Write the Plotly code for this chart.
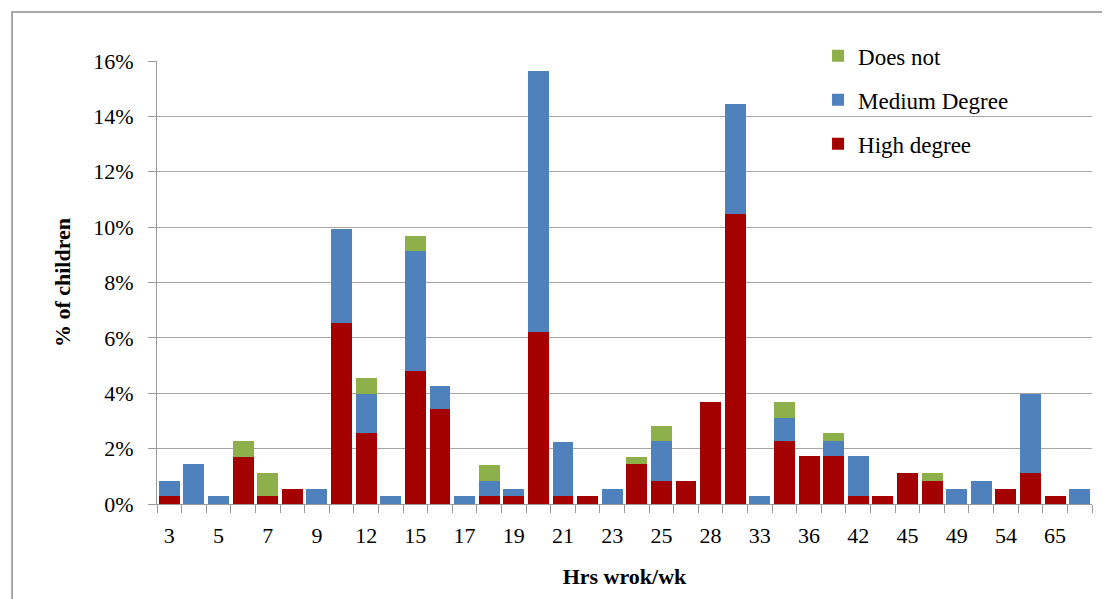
import plotly.graph_objects as go

hours = ["3", "4", "5", "6", "7", "8", "9", "10", "12", "14", "15", "16", "17", "18", "19",
         "20", "21", "22", "23", "24", "25", "27", "28", "30", "33", "35", "36", "40", "42",
         "44", "45", "48", "49", "50", "54", "56", "65", "70"]

high_degree = [0.28, 0, 0, 1.71, 0.28, 0.55, 0, 6.52, 2.55, 0, 4.80, 3.43, 0, 0.28, 0.28,
               6.22, 0.28, 0.28, 0, 1.44, 0.83, 0.83, 3.70, 10.49, 0, 2.26, 1.72, 1.72, 0.28,
               0.28, 1.11, 0.84, 0, 0, 0.55, 1.11, 0.28, 0]

medium_degree = [0.55, 1.44, 0.28, 0, 0, 0, 0.55, 3.43, 1.43, 0.28, 4.32, 0.82, 0.28, 0.55, 0.27,
                 9.41, 1.97, 0, 0.55, 0, 1.43, 0, 0, 3.97, 0.28, 0.83, 0, 0.56, 1.44,
                 0, 0, 0, 0.55, 0.83, 0, 2.86, 0, 0.55]

does_not = [0, 0, 0, 0.55, 0.84, 0, 0, 0, 0.56, 0, 0.56, 0, 0, 0.58, 0,
            0, 0, 0, 0, 0.27, 0.55, 0, 0, 0, 0, 0.58, 0, 0.27, 0,
            0, 0, 0.27, 0, 0, 0, 0, 0, 0]

# every other category gets a label, like the original
tick_text = [h if i % 2 == 0 else "" for i, h in enumerate(hours)]

FONT = "Liberation Serif"

fig = go.Figure()

fig.add_trace(go.Bar(x=hours, y=high_degree, name="High degree", legendrank=3,
                     marker=dict(color="#A50000", line=dict(width=0)), legendgroup="a"))
fig.add_trace(go.Bar(x=hours, y=medium_degree, name="Medium Degree", legendrank=2,
                     marker=dict(color="#4F81BD", line=dict(width=0)), legendgroup="b"))
fig.add_trace(go.Bar(x=hours, y=does_not, name="Does not", legendrank=1,
                     marker=dict(color="#8DB04A", line=dict(width=0)), legendgroup="c"))

# page body adds 8px, so the figure is 8px smaller and margins shifted
fig.update_layout(
    width=1102, height=591,
    barmode="stack", bargap=0.15,
    plot_bgcolor="white", paper_bgcolor="white",
    margin=dict(l=149, r=18, t=53, b=95),
    font=dict(family=FONT, size=22, color="black"),
    showlegend=True,
    legend=dict(x=0.707, y=1.06, xanchor="left", yanchor="top",
                traceorder="grouped", tracegroupgap=11,
                bgcolor="rgba(0,0,0,0)", font=dict(size=23, family=FONT)),
    xaxis=dict(type="category", tickvals=hours, ticktext=tick_text, tickson="boundaries",
               tickangle=0, ticks="outside", ticklen=8, tickcolor="#999999", showline=True,
               linecolor="#999999", linewidth=1, showgrid=False, ticklabelstandoff=12,
               title=dict(text="<b>Hrs wrok/wk</b>", standoff=21, font=dict(size=22))),
    yaxis=dict(range=[0, 16], dtick=2, ticksuffix="%", ticks="outside", ticklen=8,
               tickcolor="#999999", showline=True, linecolor="#999999", linewidth=1,
               showgrid=True, gridcolor="#A6A6A6", gridwidth=1, zeroline=False,
               ticklabelstandoff=10,
               title=dict(text="<b>% of children</b>", standoff=16, font=dict(size=22))),
)

# white block behind the legend hides the top gridlines, as in the original
fig.add_shape(type="rect", xref="paper", yref="paper", x0=0.6535, x1=1.01, y0=0.765, y1=1.05,
              fillcolor="white", line=dict(width=0), layer="below")
# chart border
fig.add_shape(type="rect", xref="paper", yref="paper", x0=-0.155, x1=1.1, y0=-0.3, y1=1.1106,
              line=dict(color="#8C8C8C", width=1.5), fillcolor="rgba(0,0,0,0)")

fig.write_html("out.html")
